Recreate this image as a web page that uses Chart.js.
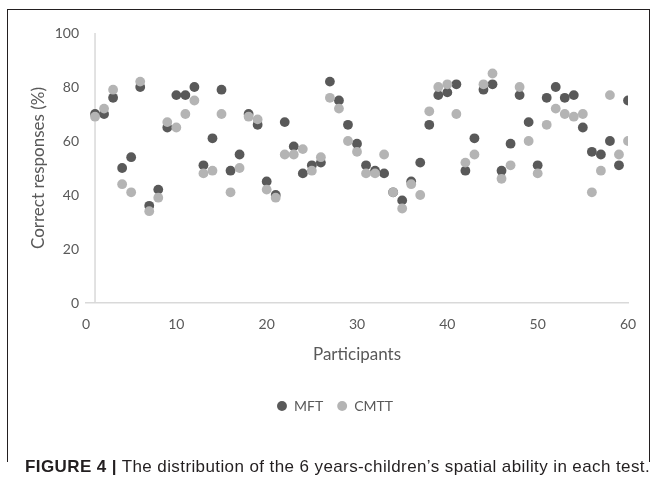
<!DOCTYPE html>
<html><head><meta charset="utf-8">
<script src="https://cdn.jsdelivr.net/npm/chart.js@4"></script>
<style>
html,body{margin:0;padding:0;background:#fff;}
#wrap{position:relative;width:657px;height:484px;overflow:hidden;}
#frame{position:absolute;left:7px;top:9px;width:643px;height:453px;border:1.5px solid #231f20;border-bottom:none;box-sizing:border-box;}
canvas{position:absolute;left:0;top:0;}
#cap{position:absolute;left:25px;top:457px;font-family:"Liberation Sans",Arial,sans-serif;font-size:17px;letter-spacing:0.4px;color:#231f20;white-space:nowrap;}
</style></head><body>
<div id="wrap"><div id="frame"></div><canvas id="c" width="657" height="484"></canvas>
<div id="cap"><b>FIGURE 4 |</b> The distribution of the 6 years-children’s spatial ability in each test.</div></div>
<script>
const participants = [1,2,3,4,5,6,7,8,9,10,11,12,13,14,15,16,17,18,19,20,21,22,23,24,25,26,27,28,29,30,31,32,33,34,35,36,37,38,39,40,41,42,43,44,45,46,47,48,49,50,51,52,53,54,55,56,57,58,59,60];
const mftValues = [70,70,76,50,54,80,36,42,65,77,77,80,51,61,79,49,55,70,66,45,40,67,58,48,51,52,82,75,66,59,51,49,48,41,38,45,52,66,77,78,81,49,61,79,81,49,59,77,67,51,76,80,76,77,65,56,55,60,51,75];
const cmttValues = [69,72,79,44,41,82,34,39,67,65,70,75,48,49,70,41,50,69,68,42,39,55,55,57,49,54,76,72,60,56,48,48,55,41,35,44,40,71,80,81,70,52,55,81,85,46,51,80,60,48,66,72,70,69,70,41,49,77,55,60];
const xTicks = [0,10,20,30,40,50,60];
const yTicks = [0,20,40,60,80,100];
const seriesNames = ['MFT','CMTT'];
const xTitle = 'Participants';
const yTitle = 'Correct responses (%)';
const yAxisCrossAt = 1;

Chart.defaults.font.family = 'Lato';
const axisGrey = '#595959';
const lineGrey = '#d9d9d9';

const crossLine = {
  id: 'crossLine',
  beforeDatasetsDraw(chart) {
    const {ctx, scales: {x, y}} = chart;
    const px = x.getPixelForValue(yAxisCrossAt);
    ctx.save();
    ctx.strokeStyle = lineGrey;
    ctx.lineWidth = 1.5;
    ctx.beginPath();
    ctx.moveTo(px, y.getPixelForValue(100));
    ctx.lineTo(px, y.getPixelForValue(0));
    ctx.stroke();
    ctx.restore();
  }
};

new Chart(document.getElementById('c'), {
  type: 'scatter',
  data: {
    datasets: [
      { label: seriesNames[0], data: participants.map((p,i)=>({x:p,y:mftValues[i]})),
        backgroundColor: '#595959', borderWidth: 0, pointRadius: 4.9, pointHoverRadius: 4.9, order: 1 },
      { label: seriesNames[1], data: participants.map((p,i)=>({x:p,y:cmttValues[i]})),
        backgroundColor: '#b4b4b4', borderWidth: 0, pointRadius: 4.9, pointHoverRadius: 4.9, order: 0 }
    ]
  },
  options: {
    responsive: false,
    animation: false,
    layout: { padding: { left: 42, right: 29, top: 33, bottom: 61 } },
    plugins: {
      tooltip: { enabled: false },
      legend: {
        position: 'bottom',
        labels: {
          usePointStyle: true, pointStyle: 'circle', boxWidth: 10, boxHeight: 7,
          padding: 14, color: axisGrey, font: { size: 14 },
          sort: (a, b) => a.datasetIndex - b.datasetIndex
        }
      }
    },
    scales: {
      x: {
        type: 'linear', min: 0, max: 60,
        afterBuildTicks: s => { s.ticks = xTicks.map(v => ({value: v})); },
        afterFit: s => { s.height = 82; },
        grid: { display: false, drawTicks: false },
        border: { display: true, color: lineGrey, width: 1.5 },
        ticks: { color: axisGrey, font: { size: 14 }, padding: 13, maxRotation: 0 },
        title: { display: true, text: xTitle, color: axisGrey, font: { size: 17 }, padding: { top: 12, bottom: 20 } }
      },
      y: {
        min: 0, max: 100,
        afterBuildTicks: s => { s.ticks = yTicks.map(v => ({value: v})); },
        afterFit: s => { s.width = 44; },
        grid: { display: false, drawTicks: false },
        border: { display: false },
        ticks: { color: axisGrey, font: { size: 14 }, padding: 7 },
        title: { display: true, text: yTitle, color: axisGrey, font: { size: 17 }, padding: { top: -14, bottom: 0 } }
      }
    }
  },
  plugins: [crossLine]
});
</script>
</body></html>
